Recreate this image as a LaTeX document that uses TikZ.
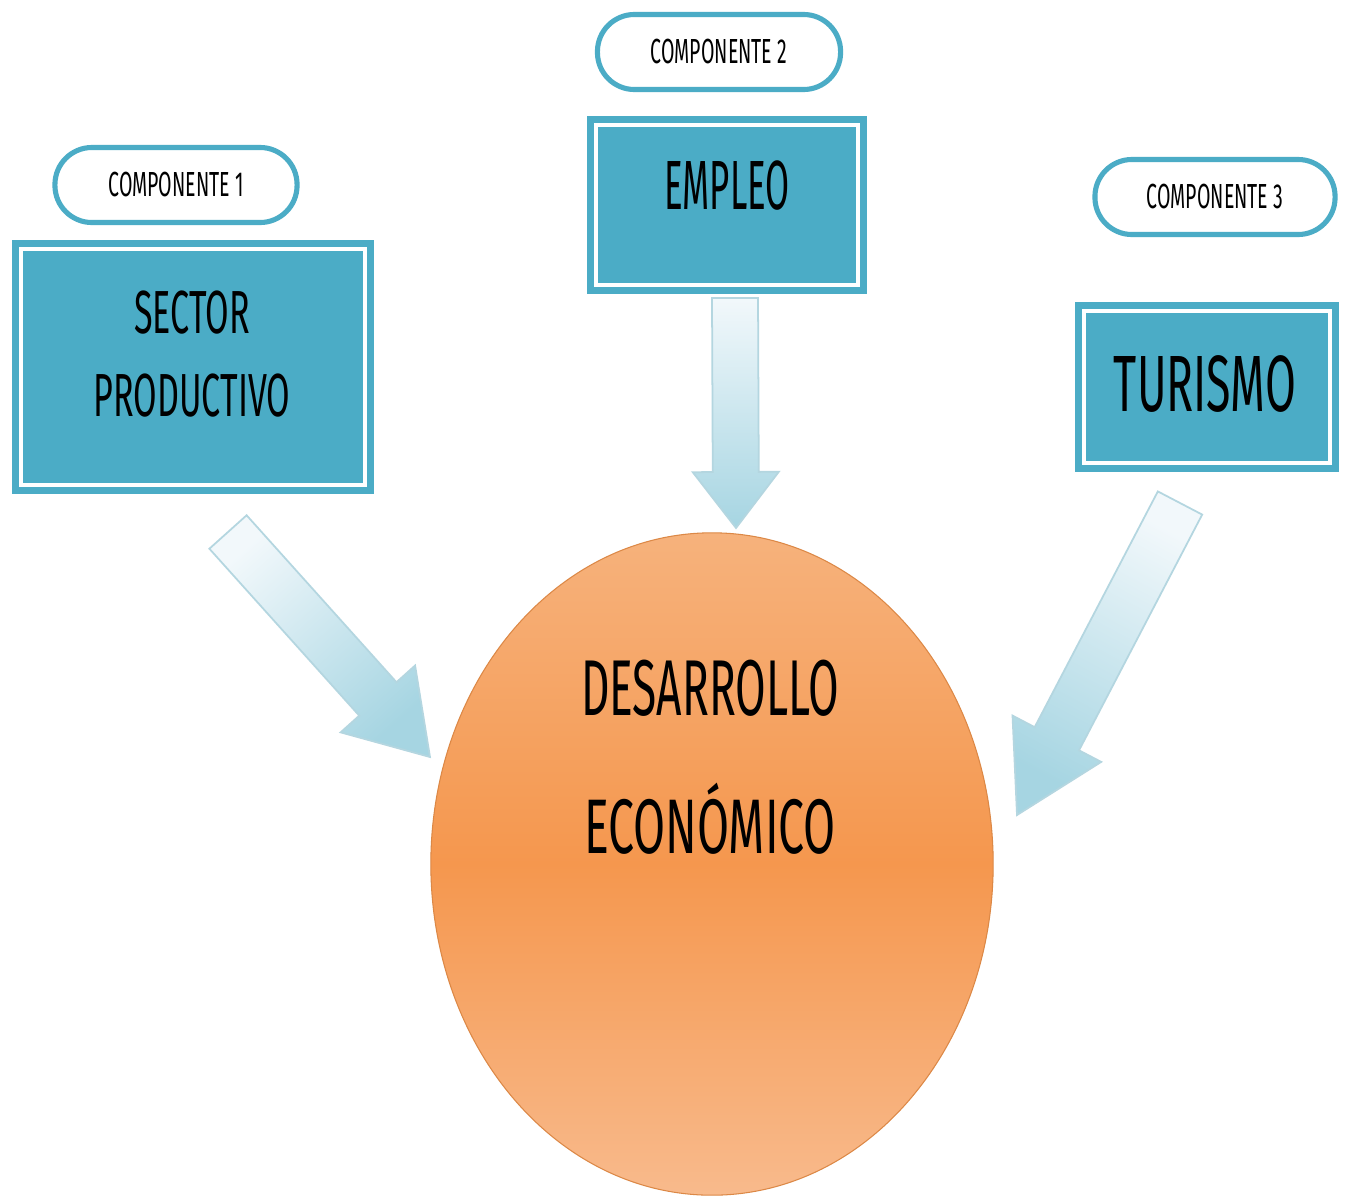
\documentclass[tikz,border=0pt]{standalone}
\usepackage{fontspec}
\usetikzlibrary{shapes.geometric,calc}
\newfontfamily\hand[FakeStretch=0.56]{Fira Sans}
\newfontfamily\handn[FakeStretch=0.50]{Fira Sans}
\newfontfamily\handw[FakeStretch=0.60]{Fira Sans}
\definecolor{boxblue}{HTML}{4BACC6}
\definecolor{arrowlight}{HTML}{F2F8FB}
\definecolor{arrowdark}{HTML}{A6D5E2}
\definecolor{arrowedge}{HTML}{B4D6E0}
\definecolor{orangetop}{HTML}{F6B27C}
\definecolor{orangemid}{HTML}{F5974E}
\definecolor{orangebot}{HTML}{F8BA8C}
\tikzset{
  compbox/.style={rectangle, fill=boxblue, inner sep=0pt},
  pill/.style={rectangle, rounded corners=0.37cm, draw=boxblue, line width=1.45pt, fill=white, inner sep=0pt,
    minimum height=0.75cm, font=\hand\fontsize{9.9}{11}\selectfont},
  boxtext/.style={align=center, text=black, inner sep=0pt},
  innerframe/.style={draw=white, line width=1.2pt},
}
\newcommand{\blockarrow}[6]{% #1 tail, #2 tip, #3 half shaft, #4 half head, #5 head length, #6 shading angle
  \coordinate (#1-h) at ($(#2)!#5!(#1)$);
  \shade[top color=arrowlight, bottom color=arrowdark, shading angle=#6, draw=arrowedge, line width=0.5pt]
    ($(#1)!#3!90:(#2)$) -- ($(#1-h)!#3!-90:(#1)$) -- ($(#1-h)!#4!-90:(#1)$) -- (#2)
    -- ($(#1-h)!#4!90:(#1)$) -- ($(#1-h)!#3!90:(#1)$) -- ($(#1)!#3!-90:(#2)$) -- cycle;
}
\begin{document}
\begin{tikzpicture}[x=0.01cm,y=-0.01cm]
\useasboundingbox (0,0) rectangle (1346,1200);
\fill[white] (0,0) rectangle (1346,1200);

% pills
\node[pill, minimum width=2.42cm] (c1) at (176,185) {COMPONENTE 1};
\node[pill, minimum width=2.43cm] (c2) at (719,52) {COMPONENTE 2};
\node[pill, minimum width=2.40cm] (c3) at (1215,197) {COMPONENTE 3};

% boxes
\node[compbox, minimum width=3.62cm, minimum height=2.54cm] (sp) at (193,367) {};
\draw[innerframe] ([shift={(10,10)}]sp.north west) rectangle ([shift={(-10,-10)}]sp.south east);
\node[boxtext, font=\hand\fontsize{17.3}{23.6}\selectfont] (sptext) at (192,354) {SECTOR\\PRODUCTIVO};

\node[compbox, minimum width=2.80cm, minimum height=1.78cm] (em) at (727,205) {};
\draw[innerframe] ([shift={(10,10)}]em.north west) rectangle ([shift={(-10,-10)}]em.south east);
\node[boxtext, font=\handn\fontsize{19.8}{24}\selectfont] (emtext) at (727,186) {EMPLEO};

\node[compbox, minimum width=2.64cm, minimum height=1.70cm] (tu) at (1207,387) {};
\draw[innerframe] ([shift={(10,10)}]tu.north west) rectangle ([shift={(-10,-10)}]tu.south east);
\node[boxtext, font=\hand\fontsize{22.7}{26}\selectfont] (tutext) at (1205,384) {TURISMO};

% central ellipse
\node[ellipse, minimum width=5.62cm, minimum height=6.62cm, inner sep=0pt,
      top color=orangetop, bottom color=orangebot, middle color=orangemid,
      draw=orangemid!90!black, line width=0.3pt] (de) at (712,864) {};
\node[boxtext, font=\hand\fontsize{22.5}{39.3}\selectfont] (detext) at (710,688) {DESARROLLO};
\node[boxtext, font=\handw\fontsize{22}{39.3}\selectfont] (detext2) at (710,819) {ECONÓMICO};

% block arrows
\coordinate (a2t) at (735,298);
\coordinate (a2h) at (736,528);
\blockarrow{a2t}{a2h}{0.23cm}{0.43cm}{0.56cm}{0}

\coordinate (a1t) at (228,532);
\coordinate (a1h) at (430,757);
\blockarrow{a1t}{a1h}{0.25cm}{0.50cm}{0.78cm}{42}

\coordinate (a3t) at (1180,503);
\coordinate (a3h) at (1017,815);
\blockarrow{a3t}{a3h}{0.25cm}{0.50cm}{0.86cm}{-28}
\end{tikzpicture}
\end{document}
